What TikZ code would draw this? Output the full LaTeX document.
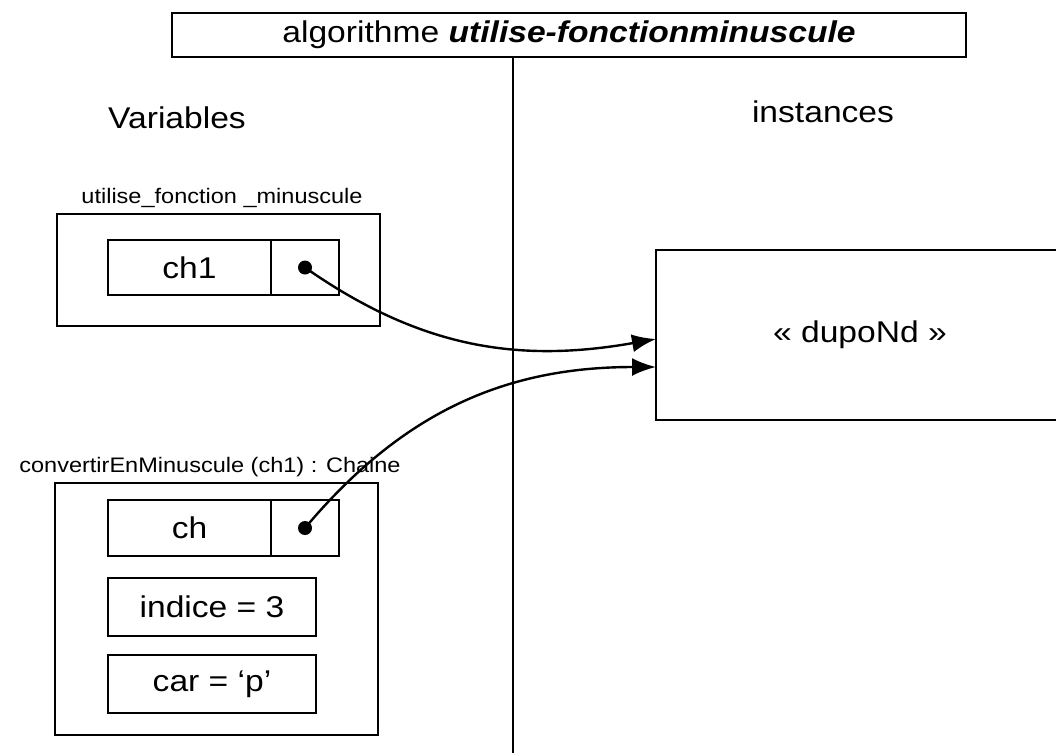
\documentclass[tikz,border=0pt]{standalone}
\usepackage{fontspec}
\setmainfont[FakeStretch=1.12]{Liberation Sans}
\usetikzlibrary{arrows.meta}
\tikzset{
  frame/.style={draw, line width=2.4pt, inner sep=0pt, outer sep=0pt},
  cell/.style={frame, font=\fontsize{30}{32}\selectfont},
  heading/.style={font=\fontsize{30}{32}\selectfont},
  caption/.style={font=\fontsize{21}{23}\selectfont},
  ref/.style={line width=2.4pt, arrows={-Latex[length=24pt,width=18pt]}},
}

\begin{document}
\begin{tikzpicture}[x=1pt, y=-1pt]
\useasboundingbox (0,0) rectangle (1056,753);
\node[cell, minimum width=794, minimum height=44] (title) at (569,35) {algorithme \textbf{\textit{utilise-fonctionminuscule}}};
\draw[line width=2.4pt] (513,57) -- (513,753);
\node[heading] (vars) at (177,118) {Variables};
\node[heading] (insts) at (823,112) {instances};

% first frame
\node[frame, minimum width=323, minimum height=112] (f1) at (218.5,270) {};
\node[caption] (f1cap) at (222,198) {utilise\_fonction \_minuscule};
\node[cell, minimum width=163, minimum height=55] (ch1) at (189.5,267.5) {ch1};
\node[cell, minimum width=68, minimum height=55, anchor=west] (p1) at (ch1.east) {};

% second frame
\node[frame, minimum width=323, minimum height=252] (f2) at (216.5,609) {};
\node[caption] (f2cap) at (210,467) {convertirEnMinuscule (ch1) : Chaine};
\node[cell, minimum width=163, minimum height=56] (ch) at (189.5,528) {ch};
\node[cell, minimum width=68, minimum height=56, anchor=west] (p2) at (ch.east) {};
\node[cell, minimum width=208, minimum height=58] (indice) at (212,607) {indice = 3};
\node[cell, minimum width=208, minimum height=58] (car) at (212,684) {car = ‘p’};

% instance
\node[cell, minimum width=408, minimum height=170, anchor=west] (inst) at (656,335) {« dupoNd »};

\fill (p1.center) circle (7pt);
\fill (p2.center) circle (7pt);
\draw[ref] (p1.center) to[out=-35, in=190] ([yshift=-4pt]inst.west);
\draw[ref] (p2.center) to[out=50, in=180] ([yshift=-32pt]inst.west);
\end{tikzpicture}
\end{document}
